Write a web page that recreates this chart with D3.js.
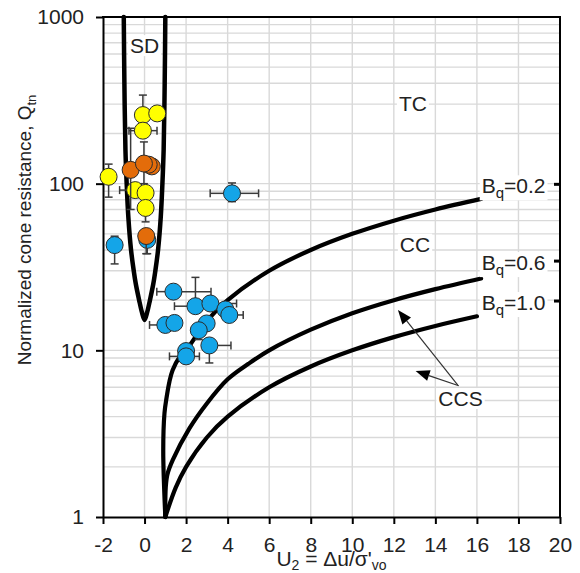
<!DOCTYPE html>
<html>
<head>
<meta charset="utf-8">
<script src="https://cdn.jsdelivr.net/npm/d3@7"></script>
<style>
  body { margin: 0; background: #fff; }
  svg { display: block; }
  text { font-family: Arial, "Liberation Sans", sans-serif; }
</style>
</head>
<body>
<svg id="chart" width="580" height="573"></svg>
<script>
// ---- axis ticks ----
const xTickValues = [-2, 0, 2, 4, 6, 8, 10, 12, 14, 16, 18, 20];
const yTickValues = [1, 10, 100, 1000];

// ---- SD zone boundary (U2, Qtn) ----
const sdU2 = [-1.0, -0.97, -0.92, -0.86, -0.78, -0.65, -0.52, -0.42, -0.26, -0.13, 0.0, 0.13, 0.26, 0.42, 0.52, 0.65, 0.78, 0.86, 0.92, 0.97, 1.0];
const sdQ  = [1000, 400, 160, 100, 63, 40, 30, 25, 20, 17, 15.2, 17, 20, 25, 30, 40, 63, 100, 160, 400, 1000];

// ---- Bq contours (U2, Qtn) ----
const bq02U2 = [1, 0.9, 0.96, 1.06, 1.2, 1.35, 1.68, 2, 3, 4, 6, 8, 10, 12, 14, 16.2];
const bq02Q  = [1, 2.5, 4.2, 5.2, 6.5, 7.6, 9.1, 10, 15, 20, 30, 40, 50, 60, 70, 81];
const bq06U2 = [1, 1.02, 1.1, 1.36, 2.16, 3, 4, 5, 6, 8, 10, 12, 14, 16.2];
const bq06Q  = [1, 1.5, 1.8, 2.2, 3.4, 4.8, 6.7, 8.3, 10, 13.3, 16.7, 20, 23.3, 27];
const bq10U2 = [1, 1.5, 2, 3, 4, 6, 8, 10, 12, 14, 16];
const bq10Q  = [1, 1.5, 2, 3, 4, 6, 8, 10, 12, 14, 16];

// ---- measured points: U2, Qtn and error-bar limits (null = none) ----
const blueU2   = [4.21, -1.44, 0.13, 1.39, 2.45, 3.17, 3.89, 4.08, 1.0, 1.44, 2.99, 2.61, 3.12, 2.0, 2.0];
const blueQ    = [87.5, 42.8, 46, 22.5, 18.4, 19.1, 17.6, 16.3, 14.2, 14.6, 14.5, 13.2, 10.7, 9.9, 9.2];
const blueU2Lo = [3.16, null, null, 0.59, 1.44, null, null, null, 0.24, null, null, null, null, null, 1.2];
const blueU2Hi = [5.49, null, null, 3.2, 3.12, 4.43, null, 4.75, null, null, null, null, 4.16, null, 2.64];
const blueQLo  = [78, 33, 38, null, null, null, null, null, null, null, null, 11.6, 8.4, null, null];
const blueQHi  = [101, 48.4, null, null, 27.4, null, null, null, null, null, null, null, null, null, null];

const yellowU2   = [-0.08, 0.61, -0.08, -1.73, -0.45, 0.05, 0.05];
const yellowQ    = [258, 264, 208, 110, 91.5, 88, 71.5];
const yellowU2Lo = [null, null, -0.75, null, -1.2, null, null];
const yellowU2Hi = [null, null, 0.6, null, null, null, null];
const yellowQLo  = [200, null, null, 83, null, null, 59];
const yellowQHi  = [340, null, null, 131, null, null, null];

const orangeU2   = [-0.67, 0.35, 0.2, -0.03, 0.08];
const orangeQ    = [121, 127, 130, 132, 48.5];
const orangeU2Lo = [null, null, null, null, null];
const orangeU2Hi = [null, null, null, null, null];
const orangeQLo  = [70, null, null, 100, 38];
const orangeQHi  = [215, null, null, 178, null];

// ---- zone labels ----
const zoneNames = ["SD", "TC", "CC", "CCS"];
const zoneU2    = [0.0, 12.92, 13.02, 15.21];
const zoneQ     = [607, 272, 39.1, 4.63];

const bqNames = ["0.2", "0.6", "1.0"];
const bqLabelU2 = [16.23, 16.23, 16.23];
const bqLabelQ  = [87.5, 30.3, 17.45];

// CCS pointer arrows: tail and head (U2, Qtn)
const arrowTailU2 = [15.08, 15.13];
const arrowTailQ  = [6.19, 6.13];
const arrowHeadU2 = [12.2, 13.05];
const arrowHeadQ  = [17.45, 7.51];

// ---------------------------------------------------------------
const svg = d3.select("#chart");
const x = d3.scaleLinear().domain([-2, 20]).range([103, 560]);
const y = d3.scaleLog().domain([1, 1000]).range([517, 17]);
const [x0, x1] = x.range();
const [y0, y1] = y.range();

// gridlines
const grid = svg.append("g").attr("stroke", "#d9d9d9").attr("stroke-width", 1.4);
grid.selectAll("line.v")
  .data(xTickValues.filter(d => d > -2 && d < 20))
  .join("line")
  .attr("x1", d => x(d)).attr("x2", d => x(d))
  .attr("y1", y0).attr("y2", y1);
const minorQ = [];
[1, 10, 100].forEach(dec => { for (let k = 1; k <= 9; k++) minorQ.push(dec * k); });
grid.selectAll("line.h")
  .data(minorQ.filter(d => d > 1 && d < 1000))
  .join("line")
  .attr("x1", x0).attr("x2", x1)
  .attr("y1", d => y(d)).attr("y2", d => y(d));

// boundary curves
const curveLine = d3.line()
  .x(d => x(d[0])).y(d => y(d[1]))
  .curve(d3.curveCatmullRom.alpha(0.5));
const zip = (a, b) => a.map((v, i) => [v, b[i]]);
const curves = svg.append("g").attr("fill", "none").attr("stroke", "#000")
  .attr("stroke-linecap", "round").attr("stroke-linejoin", "round");
curves.append("path").attr("d", curveLine(zip(sdU2, sdQ))).attr("stroke-width", 4.5);
[[bq02U2, bq02Q], [bq06U2, bq06Q], [bq10U2, bq10Q]].forEach(([u, q]) => {
  curves.append("path").attr("d", curveLine(zip(u, q))).attr("stroke-width", 4.2);
});

// axes
const xAxis = d3.axisBottom(x).tickValues(xTickValues).tickSize(7).tickSizeOuter(0)
  .tickPadding(13).tickFormat(d => String(d));
const yAxis = d3.axisLeft(y).tickValues(yTickValues).tickSize(7).tickSizeOuter(0)
  .tickPadding(12).tickFormat(d => String(d));
const gx = svg.append("g").attr("transform", `translate(0,${y0})`).call(xAxis);
const gy = svg.append("g").attr("transform", `translate(${x0},0)`).call(yAxis);
[gx, gy].forEach(g => {
  g.select(".domain").attr("stroke", "#000").attr("stroke-width", 2);
  g.selectAll(".tick line").attr("stroke", "#000").attr("stroke-width", 2);
  g.selectAll(".tick text").attr("fill", "#222").style("font-size", "21px");
});
// top and right frame
svg.append("line").attr("x1", x0 - 1).attr("x2", x1 + 1).attr("y1", y1).attr("y2", y1)
  .attr("stroke", "#000").attr("stroke-width", 2);
svg.append("line").attr("x1", x1).attr("x2", x1).attr("y1", y1).attr("y2", y0)
  .attr("stroke", "#000").attr("stroke-width", 2);

// axis titles
const xt = svg.append("text").attr("x", (x0 + x1) / 2).attr("y", 566)
  .attr("text-anchor", "middle").attr("fill", "#222").style("font-size", "21px");
xt.append("tspan").text("U");
xt.append("tspan").attr("dy", 4).style("font-size", "14px").text("2");
xt.append("tspan").attr("dy", -4).text(" = \u0394u/\u03c3'");
xt.append("tspan").attr("dy", 4).style("font-size", "14px").text("vo");

const yt = svg.append("text").attr("transform", "translate(31,230) rotate(-90)")
  .attr("text-anchor", "middle").attr("fill", "#222").style("font-size", "19px");
yt.append("tspan").text("Normalized cone resistance, Q");
yt.append("tspan").attr("dy", 5).style("font-size", "13px").text("tn");

// text with a white box behind it
function boxedText(parent, build) {
  const g = parent.append("g");
  const rect = g.append("rect").attr("fill", "#fff");
  const t = g.append("text").attr("fill", "#222");
  build(t);
  const b = t.node().getBBox();
  rect.attr("x", b.x - 2).attr("y", b.y + 1).attr("width", b.width + 4).attr("height", b.height - 2);
  return g;
}

const labels = svg.append("g");
zoneNames.forEach((name, i) => {
  boxedText(labels, t => t.attr("x", x(zoneU2[i])).attr("y", y(zoneQ[i]))
    .attr("text-anchor", "middle").style("font-size", "21px").text(name));
});

bqNames.forEach((v, i) => {
  const ty = y(bqLabelQ[i]);
  boxedText(labels, t => {
    t.attr("x", x(bqLabelU2[i])).attr("y", ty).style("font-size", "21px");
    t.append("tspan").text("B");
    t.append("tspan").attr("dy", 5).style("font-size", "15px").text("q");
    t.append("tspan").attr("dy", -5).text("=" + v);
  });
  labels.append("rect").attr("x", x1 - 6).attr("y", ty - 10.5)
    .attr("width", 6).attr("height", 3).attr("fill", "#000");
});

// CCS pointers
const arrows = svg.append("g");
arrowTailU2.forEach((_, i) => {
  const tx = x(arrowTailU2[i]), ty = y(arrowTailQ[i]);
  const hx = x(arrowHeadU2[i]), hy = y(arrowHeadQ[i]);
  const ang = Math.atan2(hy - ty, hx - tx);
  const len = 14, half = 5.5;
  const bx = hx - len * Math.cos(ang), by = hy - len * Math.sin(ang);
  arrows.append("line").attr("x1", tx).attr("y1", ty).attr("x2", bx).attr("y2", by)
    .attr("stroke", "#333").attr("stroke-width", 1.2);
  const px = -Math.sin(ang) * half, py = Math.cos(ang) * half;
  arrows.append("path")
    .attr("d", `M${hx},${hy}L${bx + px},${by + py}L${bx - px},${by - py}Z`)
    .attr("fill", "#000");
});

// measured points with error bars
function drawSeries(u2, q, u2Lo, u2Hi, qLo, qHi, color) {
  const g = svg.append("g");
  const eb = g.append("g").attr("stroke", "#3a3a3a").attr("stroke-width", 1.5);
  const cap = 4;
  u2.forEach((u, i) => {
    const cx = x(u), cy = y(q[i]);
    [u2Lo[i], u2Hi[i]].filter(v => v !== null).forEach(v => {
      eb.append("line").attr("x1", cx).attr("x2", x(v)).attr("y1", cy).attr("y2", cy);
      eb.append("line").attr("x1", x(v)).attr("x2", x(v)).attr("y1", cy - cap).attr("y2", cy + cap);
    });
    [qLo[i], qHi[i]].filter(v => v !== null).forEach(v => {
      eb.append("line").attr("x1", cx).attr("x2", cx).attr("y1", cy).attr("y2", y(v));
      eb.append("line").attr("x1", cx - cap).attr("x2", cx + cap).attr("y1", y(v)).attr("y2", y(v));
    });
  });
  g.selectAll("circle").data(u2).join("circle")
    .attr("cx", d => x(d)).attr("cy", (d, i) => y(q[i])).attr("r", 8.5)
    .attr("fill", color).attr("stroke", "#2b2b2b").attr("stroke-width", 1);
}
drawSeries(blueU2, blueQ, blueU2Lo, blueU2Hi, blueQLo, blueQHi, "#14a5e8");
drawSeries(yellowU2, yellowQ, yellowU2Lo, yellowU2Hi, yellowQLo, yellowQHi, "#ffff00");
drawSeries(orangeU2, orangeQ, orangeU2Lo, orangeU2Hi, orangeQLo, orangeQHi, "#e36c0a");
</script>
</body>
</html>
